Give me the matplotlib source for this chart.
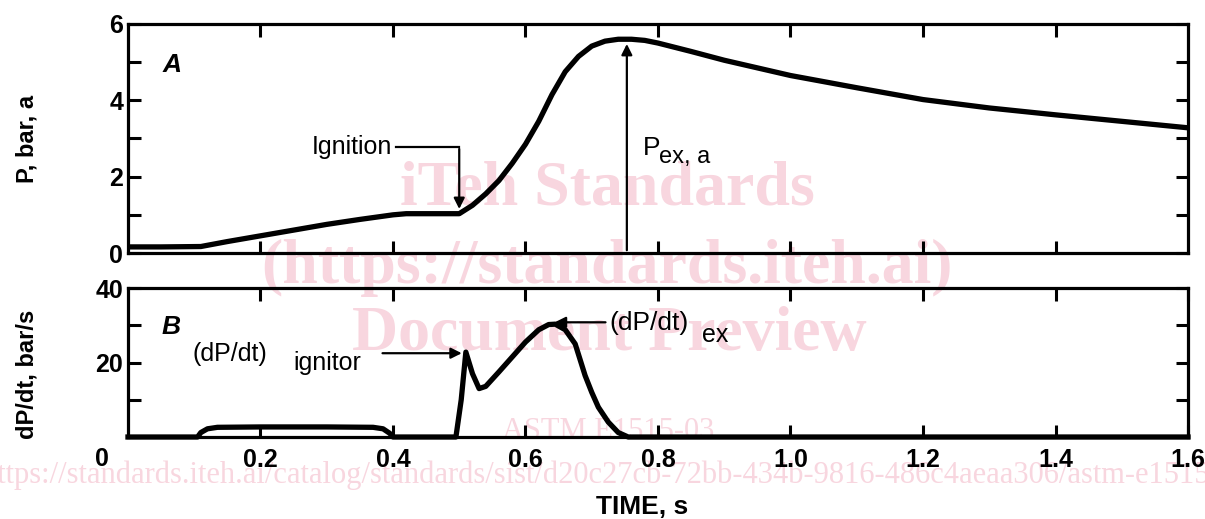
import matplotlib
matplotlib.use("Agg")
import matplotlib.pyplot as plt

# Panel A: absolute pressure vs time
time_a = [0.0, 0.05, 0.11, 0.15, 0.2, 0.25, 0.3, 0.35, 0.4, 0.42, 0.5, 0.52, 0.54, 0.56,
          0.58, 0.60, 0.62, 0.64, 0.66, 0.68, 0.70, 0.72, 0.74, 0.76, 0.78, 0.80, 0.85,
          0.90, 0.95, 1.0, 1.1, 1.2, 1.3, 1.4, 1.5, 1.6]
pres_a = [0.16, 0.16, 0.17, 0.3, 0.45, 0.6, 0.75, 0.88, 1.0, 1.03, 1.03, 1.25, 1.55, 1.9,
          2.35, 2.85, 3.45, 4.15, 4.75, 5.15, 5.42, 5.55, 5.6, 5.6, 5.57, 5.5, 5.28,
          5.05, 4.85, 4.65, 4.33, 4.02, 3.8, 3.62, 3.45, 3.28]

# Panel B: rate of pressure rise vs time
time_b = [0.0, 0.105, 0.11, 0.12, 0.135, 0.2, 0.3, 0.37, 0.385, 0.395, 0.40, 0.495, 0.503,
          0.51, 0.52, 0.53, 0.54, 0.56, 0.58, 0.60, 0.62, 0.635, 0.645, 0.66, 0.675, 0.69,
          0.70, 0.71, 0.725, 0.74, 0.755, 1.6]
rate_b = [0.0, 0.0, 1.2, 2.2, 2.6, 2.7, 2.7, 2.6, 2.2, 1.0, 0.0, 0.0, 10.0,
          22.8, 17.0, 13.0, 13.6, 17.5, 21.5, 25.5, 28.8, 30.2, 30.3, 28.8, 25.0, 16.5,
          12.0, 8.0, 4.0, 1.2, 0.0, 0.0]

x_ticks = [0.2, 0.4, 0.6, 0.8, 1.0, 1.2, 1.4, 1.6]
x_labels = ["0.2", "0.4", "0.6", "0.8", "1.0", "1.2", "1.4", "1.6"]
p_max, p_ex_time = 5.6, 0.753

font = "Liberation Sans"
fig = plt.figure(figsize=(12.05, 5.19), dpi=100)
ax1 = fig.add_axes([0.1062, 0.5125, 0.8797, 0.4413])
ax2 = fig.add_axes([0.1062, 0.158, 0.8797, 0.287])

for ax in (ax1, ax2):
    ax.patch.set_alpha(0)
    ax.set_xlim(0, 1.6)
    for s in ax.spines.values():
        s.set_linewidth(2.3)
    ax.tick_params(direction="in", length=9, width=2.2, top=True, right=True,
                   labelsize=18)

# watermark behind the plot
wm = "#f8d6df"
wfont = "Liberation Serif"
fig.text(0.504, 0.634, "iTeh Standards", fontsize=46, color=wm, family=wfont,
         weight="bold", ha="center", va="center", zorder=-1)
fig.text(0.504, 0.484, "(https://standards.iteh.ai)", fontsize=46, color=wm,
         family=wfont, weight="bold", ha="center", va="center", zorder=-1)
fig.text(0.506, 0.355, "Document Preview", fontsize=46, color=wm, family=wfont,
         weight="bold", ha="center", va="center", zorder=-1)
fig.text(0.505, 0.168, "ASTM E1515-03", fontsize=22, color=wm, family=wfont,
         ha="center", va="center", zorder=-1)
fig.text(0.512, 0.085, "https://standards.iteh.ai/catalog/standards/sist/d20c27cb-72bb-434b-9816-486c4aeaa306/astm-e1515-03",
         fontsize=22, color=wm, family=wfont, ha="center", va="center", zorder=-1)

# panel A
ax1.plot(time_a, pres_a, color="black", lw=3.8, solid_capstyle="butt")
ax1.set_ylim(0, 6)
ax1.set_yticks(range(0, 7))
ax1.set_yticklabels(["0", "", "2", "", "4", "", "6"], family=font, weight="bold")
ax1.set_xticks(x_ticks[:-1])
ax1.set_xticklabels([])
ax1.set_ylabel("P, bar, a", family=font, weight="bold", fontsize=17)
ax1.yaxis.set_label_coords(-0.084, 0.5)
ax1.text(0.042, 0.82, "A", transform=ax1.transAxes, fontsize=19, style="italic",
         weight="bold", family=font, ha="center", va="center")
ax1.plot([0.405, 0.50], [2.77, 2.77], color="black", lw=1.6)
ax1.annotate("", xy=(0.50, 1.08), xytext=(0.50, 2.8),
             arrowprops=dict(arrowstyle="-|>", color="black", lw=1.6, mutation_scale=16))
ax1.text(0.398, 2.77, "Ignition", family=font, fontsize=18, ha="right", va="center")
ax1.annotate("", xy=(p_ex_time, p_max - 0.05), xytext=(p_ex_time, 0),
             arrowprops=dict(arrowstyle="-|>", color="black", lw=1.6, mutation_scale=16))
ax1.text(0.777, 2.75, "P", family=font, fontsize=19, ha="left", va="center")
ax1.text(0.801, 2.52, "ex, a", family=font, fontsize=17, ha="left", va="center")

# panel B
ax2.plot(time_b, rate_b, color="black", lw=3.8, clip_on=False)
ax2.set_ylim(0, 40)
ax2.set_yticks([0, 10, 20, 30, 40])
ax2.set_yticklabels(["", "", "20", "", "40"], family=font, weight="bold")
ax2.set_xticks(x_ticks)
ax2.set_xticklabels(x_labels, family=font, weight="bold")
ax2.tick_params(axis="x", pad=8)
ax2.text(-0.025, -0.15, "0", transform=ax2.transAxes, family=font, weight="bold",
         fontsize=18, ha="center", va="center")
ax2.set_ylabel("dP/dt, bar/s", family=font, weight="bold", fontsize=17)
ax2.yaxis.set_label_coords(-0.084, 0.42)
ax2.set_xlabel("TIME, s", family=font, weight="bold", fontsize=19)
ax2.xaxis.set_label_coords(0.485, -0.39)
ax2.text(0.041, 0.74, "B", transform=ax2.transAxes, fontsize=19, style="italic",
         weight="bold", family=font, ha="center", va="center")
ax2.annotate("", xy=(0.508, 22.5), xytext=(0.38, 22.5),
             arrowprops=dict(arrowstyle="-|>", color="black", lw=1.6, mutation_scale=16))
ax2.text(0.098, 22.4, "(dP/dt)", family=font, fontsize=18, ha="left", va="center")
ax2.text(0.25, 19.8, "ignitor", family=font, fontsize=18, ha="left", va="center")
ax2.annotate("", xy=(0.64, 30.8), xytext=(0.725, 30.8),
             arrowprops=dict(arrowstyle="-|>", color="black", lw=1.6, mutation_scale=16))
ax2.text(0.727, 30.5, "(dP/dt)", family=font, fontsize=19, ha="left", va="center")
ax2.text(0.867, 27.4, "ex", family=font, fontsize=18, ha="left", va="center")

fig.savefig("out.png", dpi=100)
